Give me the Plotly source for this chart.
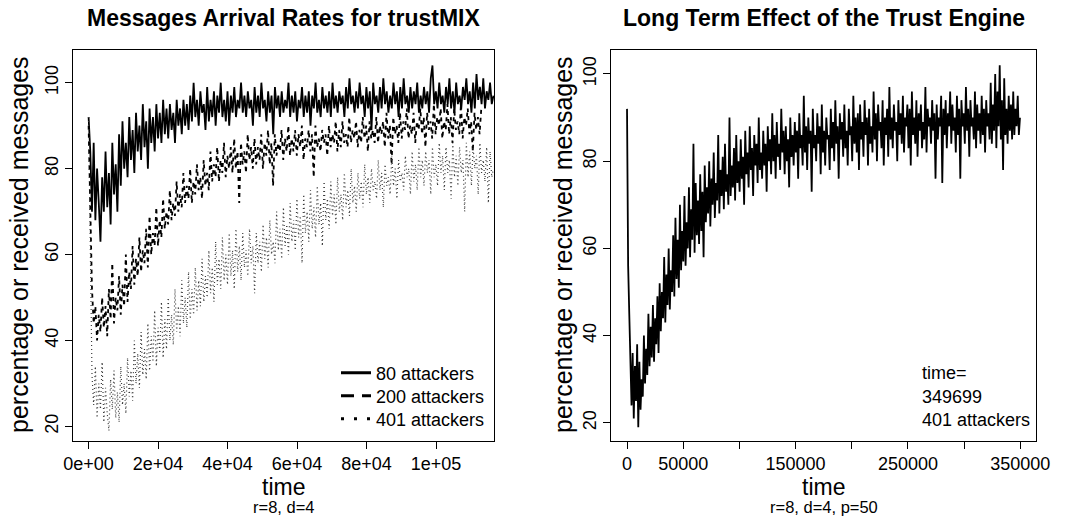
import numpy as np
import plotly.graph_objects as go

FONT = "Liberation Sans, Arial, Helvetica, sans-serif"

# ---------------- data ----------------
# Left panel: arrival rates (percent) for trustMIX, three attacker levels
LEFT_T_END = 116500          # last time step shown in left panel
ATT80 = [
    92, 84, 70, 86, 68, 80, 72, 63, 78, 70,
    84, 71, 79, 67, 86, 74, 81, 70, 88, 76,
    91, 80, 86, 78, 92, 82, 89, 79, 93, 84,
    90, 82, 95, 85, 91, 80, 94, 86, 92, 84,
    95, 87, 93, 86, 96, 88, 94, 87, 95, 89,
    93, 86, 96, 90, 94, 88, 96, 90, 95, 89,
    97, 91, 100, 92, 96, 90, 98, 93, 95, 89,
    99, 91, 96, 92, 98, 90, 97, 93, 100, 92,
    96, 91, 98, 90, 97, 93, 99, 92, 96, 94,
    100, 93, 97, 92, 98, 94, 96, 90, 99, 93,
    97, 92, 100, 94, 96, 91, 98, 93, 97, 88,
    99, 94, 97, 92, 98, 93, 96, 94, 100, 92,
    97, 93, 98, 91, 96, 94, 99, 92, 97, 93,
    98, 90, 97, 94, 100, 93, 96, 92, 99, 94,
    97, 93, 98, 92, 100, 94, 97, 93, 98, 95,
    97, 92, 99, 94, 101, 95, 97, 93, 98, 94,
    100, 95, 97, 92, 99, 94, 98, 89, 100, 95,
    97, 93, 99, 94, 101, 95, 98, 93, 97, 94,
    100, 95, 98, 92, 99, 94, 101, 95, 97, 93,
    99, 94, 98, 95, 100, 93, 97, 94, 99, 95,
    98, 93, 101, 104, 95, 98, 94, 100, 95, 97,
    93, 99, 95, 101, 94, 98, 93, 100, 95, 97,
    94, 99, 96, 101, 95, 98, 93, 100, 94, 102,
    96, 99, 95, 101, 94, 98, 96, 100, 95, 97,
]
ATT200_T_END = 113000
ATT200 = [
    90, 74, 52, 44, 48, 40, 46, 42, 50, 43,
    48, 41, 52, 45, 58, 44, 50, 47, 55, 46,
    53, 48, 60, 49, 56, 52, 62, 53, 59, 55,
    64, 56, 61, 58, 66, 57, 69, 60, 65, 62,
    71, 62, 68, 64, 73, 66, 70, 67, 75, 68,
    72, 69, 77, 70, 74, 71, 79, 72, 76, 73,
    80, 72, 77, 74, 81, 75, 78, 73, 82, 76,
    79, 75, 84, 77, 81, 78, 85, 77, 82, 79,
    86, 78, 83, 80, 85, 79, 87, 80, 84, 72,
    86, 81, 84, 79, 88, 82, 85, 80, 87, 81,
    85, 82, 88, 80, 86, 83, 89, 81, 86, 76,
    88, 83, 86, 84, 89, 82, 87, 84, 90, 83,
    87, 84, 89, 83, 88, 85, 90, 82, 87, 85,
    89, 84, 88, 78, 90, 85, 87, 84, 89, 86,
    88, 83, 90, 85, 88, 86, 91, 84, 89, 85,
    91, 86, 88, 85, 92, 86, 89, 87, 91, 85,
    89, 86, 92, 87, 90, 84, 91, 87, 89, 86,
    92, 86, 90, 88, 91, 85, 93, 87, 90, 81,
    92, 88, 90, 86, 93, 87, 91, 89, 94, 87,
    90, 88, 93, 86, 91, 89, 94, 88, 92, 85,
    93, 89, 91, 87, 95, 88, 92, 90, 94, 87,
    91, 89, 95, 88, 92, 86, 94, 89, 91, 88,
    95, 87, 92, 90, 94, 88, 91, 84, 93, 89,
    92, 88, 94,
]
ATT401 = [
    92, 58, 32, 25, 34, 22, 30, 24, 35, 21,
    29, 23, 19, 31, 24, 33, 22, 28, 21, 34,
    25, 30, 23, 36, 27, 33, 26, 40, 30, 37,
    29, 42, 32, 38, 31, 44, 33, 41, 35, 47,
    34, 43, 37, 49, 36, 45, 38, 50, 40, 46,
    39, 52, 42, 48, 41, 54, 44, 50, 43, 56,
    45, 52, 46, 57, 47, 54, 48, 59, 49, 55,
    50, 61, 51, 57, 49, 63, 53, 59, 52, 64,
    54, 60, 53, 65, 55, 61, 52, 66, 56, 62,
    54, 65, 57, 61, 55, 66, 58, 62, 51, 65,
    58, 63, 56, 67, 59, 64, 57, 68, 60, 63,
    58, 70, 61, 66, 59, 71, 62, 67, 60, 72,
    63, 68, 61, 73, 64, 69, 58, 74, 65, 70,
    63, 75, 66, 71, 64, 76, 67, 72, 62, 77,
    68, 73, 66, 77, 69, 74, 67, 78, 70, 74,
    68, 79, 71, 75, 69, 80, 72, 76, 70, 79,
    73, 77, 71, 81, 74, 78, 72, 80, 75, 77,
    73, 82, 75, 79, 71, 81, 76, 78, 74, 83,
    76, 80, 73, 82, 77, 79, 75, 83, 78, 80,
    74, 84, 77, 81, 75, 85, 78, 82, 76, 84,
    79, 82, 74, 85, 78, 81, 76, 86, 79, 83,
    75, 85, 79, 82, 73, 86, 78, 83, 76, 85,
    79, 82, 70, 86, 78, 84, 76, 85, 80, 83,
    74, 86, 79, 82, 77, 85, 72, 84, 78, 80,
]
LEFT_NAMES = ["80 attackers", "200 attackers", "401 attackers"]

# Right panel: long-term run, 401 attackers
RIGHT_T_END = 349699
LONG401 = [
    92, 56, 45, 30, 24, 36, 21, 33, 25, 38,
    19, 34, 23, 30, 26, 40, 29, 37, 31, 45,
    33, 42, 35, 47, 34, 44, 38, 49, 36, 52,
    41, 50, 44, 58, 43, 54, 47, 60, 46, 55,
    50, 63, 49, 67, 53, 62, 51, 70, 55, 64,
    57, 72, 56, 66, 60, 74, 58, 69, 62, 84,
    59, 75, 63, 71, 61, 77, 64, 73, 58, 79,
    66, 74, 68, 80, 65, 76, 70, 82, 67, 75,
    71, 86, 68, 78, 72, 81, 69, 84, 73, 77,
    70, 90, 72, 79, 74, 83, 71, 86, 75, 80,
    73, 85, 76, 81, 70, 87, 77, 82, 74, 88,
    78, 83, 72, 86, 79, 84, 75, 90, 78, 82,
    76, 87, 79, 84, 73, 88, 80, 85, 77, 91,
    80, 86, 76, 89, 81, 84, 78, 92, 82, 87,
    77, 88, 80, 85, 74, 90, 81, 86, 79, 89,
    82, 87, 76, 91, 83, 86, 79, 95, 82, 88,
    78, 90, 84, 87, 73, 92, 83, 86, 80, 91,
    84, 88, 77, 93, 82, 87, 79, 90, 85, 86,
    78, 92, 83, 89, 80, 94, 84, 88, 76, 91,
    85, 89, 81, 93, 83, 87, 79, 92, 86, 88,
    80, 95, 84, 90, 82, 91, 78, 93, 85, 89,
    81, 94, 86, 90, 79, 92, 84, 88, 82, 96,
    85, 91, 80, 93, 87, 89, 83, 94, 79, 90,
    86, 92, 81, 97, 85, 90, 83, 93, 87, 89,
    80, 94, 86, 91, 84, 95, 82, 90, 88, 93,
    83, 92, 79, 96, 86, 90, 84, 94, 81, 91,
    87, 93, 83, 89, 85, 97, 82, 92, 88, 90,
    84, 94, 87, 91, 76, 93, 85, 90, 88, 95,
    75, 92, 86, 94, 83, 91, 88, 96, 84, 93,
    87, 90, 82, 95, 86, 92, 76, 94, 88, 91,
    84, 97, 87, 92, 81, 94, 88, 90, 85, 96,
    83, 93, 87, 91, 84, 95, 86, 92, 82, 94,
    88, 91, 85, 98, 84, 93, 87, 100, 83, 96,
    88, 102, 85, 94, 78, 99, 86, 92, 84, 95,
    87, 93, 85, 96, 86, 92, 88, 95, 86, 90,
]

LEFT_XTICKS = [0, 20000, 40000, 60000, 80000, 100000]
LEFT_XTICKTEXT = ["0e+00", "2e+04", "4e+04", "6e+04", "8e+04", "1e+05"]
RIGHT_XTICKS = [0, 50000, 100000, 150000, 200000, 250000, 300000, 350000]
RIGHT_XTICKTEXT = ["0", "50000", "", "150000", "", "250000", "", "350000"]
YTICKS = [20, 40, 60, 80, 100]

TITLE_LEFT = "Messages Arrival Rates for trustMIX"
TITLE_RIGHT = "Long Term Effect of the Trust Engine"
YLABEL = "percentage or received messages"
XLABEL = "time"
SUB_LEFT = "r=8, d=4"
SUB_RIGHT = "r=8, d=4, p=50"
RIGHT_NOTE = ["time=", "349699", "401 attackers"]

# ---------------- figure ----------------
W, H = 1067, 516


def px(x):
    return x / W


def py(y):
    return 1 - y / H


def times(n, t_end):
    return np.linspace(0, t_end, n)


fig = go.Figure()

left_series = [ATT80, ATT200, ATT401]
left_ends = [LEFT_T_END, ATT200_T_END, LEFT_T_END]
data_dash = ["solid", "4px,4px", "1px,3px"]
data_width = [1.8, 1.8, 1.2]
data_color = ["black", "black", "#3a3a3a"]
for vals, t_end, dash, wd, col in zip(left_series, left_ends, data_dash,
                                      data_width, data_color):
    fig.add_trace(go.Scatter(
        x=times(len(vals), t_end), y=vals, mode="lines",
        line=dict(color=col, width=wd, dash=dash),
        showlegend=False, hoverinfo="skip", xaxis="x", yaxis="y"))

# legend entries (drawn thicker, as in the reference legend), one legend each
legend_dash = ["solid", "13px,8px", "3px,10px"]
legend_ids = ["legend", "legend2", "legend3"]
for name, dash, lid in zip(LEFT_NAMES, legend_dash, legend_ids):
    fig.add_trace(go.Scatter(
        x=[None], y=[None], mode="lines", name=name, legend=lid,
        line=dict(color="black", width=3, dash=dash),
        showlegend=True, xaxis="x", yaxis="y"))

fig.add_trace(go.Scatter(
    x=times(len(LONG401), RIGHT_T_END), y=LONG401, mode="lines",
    line=dict(color="black", width=1.8), showlegend=False,
    hoverinfo="skip", xaxis="x2", yaxis="y2"))

axis_common = dict(
    showline=True, mirror=True, linecolor="black", linewidth=1,
    ticks="outside", ticklen=7, tickwidth=1, tickcolor="black",
    showgrid=False, zeroline=False, automargin=False,
    tickfont=dict(family=FONT, size=18, color="black"),
)

legend_style = dict(xanchor="left", yanchor="middle",
                    bgcolor="rgba(0,0,0,0)", borderwidth=0,
                    font=dict(family=FONT, size=18, color="black"))
LEG_X = 336
LEG_Y = [373, 396, 419]

fig.update_layout(
    width=W, height=H, autosize=False,
    margin=dict(l=0, r=0, t=0, b=0, pad=0, autoexpand=False),
    paper_bgcolor="white", plot_bgcolor="white",
    font=dict(family=FONT, color="black"),
    xaxis=dict(domain=[px(73), px(494)], range=[-4490, 116660],
               tickvals=LEFT_XTICKS, ticktext=LEFT_XTICKTEXT,
               anchor="y", **axis_common),
    yaxis=dict(domain=[py(440.7), py(50)], range=[16.7, 107.6],
               tickvals=YTICKS, tickangle=-90, anchor="x", **axis_common),
    xaxis2=dict(domain=[px(611.3), px(1035.7)], range=[-13988, 363687],
                tickvals=RIGHT_XTICKS, ticktext=RIGHT_XTICKTEXT,
                anchor="y2", **axis_common),
    yaxis2=dict(domain=[py(440.7), py(50)], range=[15.9, 105.5],
                tickvals=YTICKS, tickangle=-90, anchor="x2", **axis_common),
    legend=dict(x=px(LEG_X), y=py(LEG_Y[0]), **legend_style),
    legend2=dict(x=px(LEG_X), y=py(LEG_Y[1]), **legend_style),
    legend3=dict(x=px(LEG_X), y=py(LEG_Y[2]), **legend_style),
    showlegend=True,
)

ann = []
# titles
ann.append(dict(x=px(283.5), y=py(18), text="<b>%s</b>" % TITLE_LEFT,
                font=dict(size=23)))
ann.append(dict(x=px(823.5), y=py(18), text="<b>%s</b>" % TITLE_RIGHT,
                font=dict(size=23)))
# y labels
ann.append(dict(x=px(19), y=py(245), text=YLABEL, textangle=-90,
                font=dict(size=25)))
ann.append(dict(x=px(563), y=py(245), text=YLABEL, textangle=-90,
                font=dict(size=25)))
# x labels and subtitles
for cx, sub in [(283.5, SUB_LEFT), (823.5, SUB_RIGHT)]:
    ann.append(dict(x=px(cx), y=py(487), text=XLABEL, font=dict(size=23)))
    ann.append(dict(x=px(cx), y=py(506.5), text=sub, font=dict(size=16.5)))
# right panel note
for i, t in enumerate(RIGHT_NOTE):
    ann.append(dict(x=px(920), y=py(373 + 23.5 * i), text=t, xanchor="left",
                    font=dict(size=18)))

for a in ann:
    a.setdefault("xanchor", "center")
    a.update(xref="paper", yref="paper", yanchor="middle", showarrow=False)
    a["font"].update(family=FONT, color="black")
fig.update_layout(annotations=ann)

fig.write_html(
    "out.html",
    config={"displayModeBar": False},
    post_script="document.body.style.margin='0px';"
                "document.body.style.overflow='hidden';",
)
